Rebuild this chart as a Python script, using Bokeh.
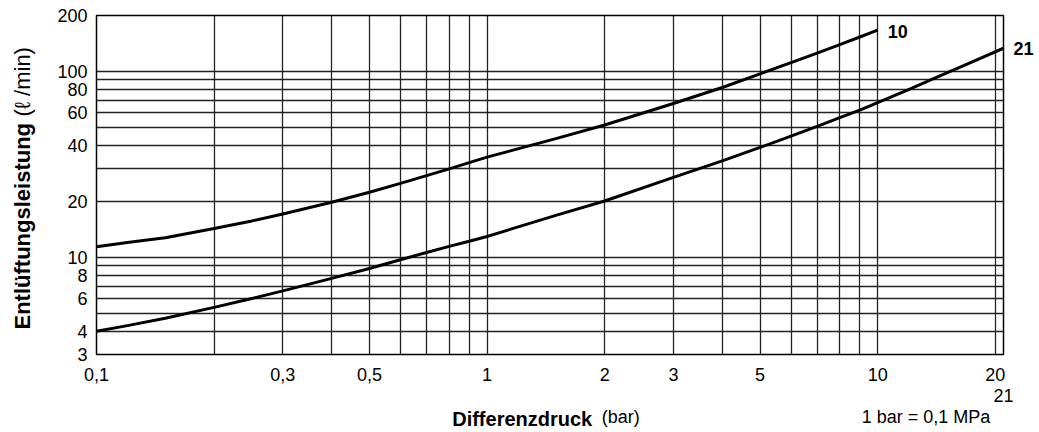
from math import pi
from bokeh.plotting import figure
from bokeh.models import FixedTicker, CustomJSTickFormatter, Label
from bokeh.embed import file_html
from bokeh.resources import INLINE

# ---- data ----
pressure_10 = [0.1, 0.12, 0.15, 0.2, 0.25, 0.3, 0.4, 0.5, 0.6, 0.7, 0.8, 0.9, 1.0, 1.5, 2, 3, 4, 5, 6, 7, 8, 9, 10]
flow_10 = [11.4, 12.0, 12.75, 14.3, 15.7, 17.1, 19.8, 22.4, 25.0, 27.5, 29.9, 32.3, 34.6, 43.5, 51.5, 67.2, 82.0,
           97.0, 111.5, 125.5, 139.5, 153.2, 166.9]

pressure_21 = [0.1, 0.12, 0.15, 0.2, 0.25, 0.3, 0.4, 0.5, 0.6, 0.7, 0.8, 0.9, 1.0, 1.5, 2, 3, 4, 5, 6, 7, 8, 9, 10,
               12, 14, 17, 21]
flow_21 = [4.0, 4.29, 4.7, 5.38, 6.0, 6.6, 7.7, 8.7, 9.7, 10.62, 11.45, 12.2, 12.95, 16.8, 20.1, 26.9, 33.0, 39.0,
           44.9, 50.6, 56.4, 62.0, 67.9, 79.9, 92.0, 109.8, 133.3]

series_names = ["10", "21"]

x_tick_values = [0.1, 0.3, 0.5, 1, 2, 3, 5, 10, 20]
x_tick_labels = ["0,1", "0,3", "0,5", "1", "2", "3", "5", "10", "20"]
x_end_value = 21
x_end_label = "21"
y_tick_values = [3, 4, 6, 8, 10, 20, 40, 60, 80, 100, 200]
y_tick_labels = ["3", "4", "6", "8", "10", "20", "40", "60", "80", "100", "200"]
x_grid_values = [0.2, 0.3, 0.4, 0.5, 0.6, 0.7, 0.8, 0.9, 1, 2, 3, 4, 5, 6, 7, 8, 9, 10, 20]
y_grid_values = [4, 5, 6, 7, 8, 9, 10, 20, 30, 40, 50, 60, 70, 80, 90, 100]

x_title_bold = "Differenzdruck"
x_title_unit = "(bar)"
y_title_bold = "Entlüftungsleistung"
y_title_unit = "(ℓ /min)"
unit_note = "1 bar = 0,1 MPa"

# layout anchors (x positions, in bar, where the bottom texts are centred)
unit_anchor_x = 2.2
note_anchor_x = 13.3

FONT = "Liberation Sans"
LOOKUP = "const i = keys.indexOf(tick); return i >= 0 ? texts[i] : String(tick);"

p = figure(
    width=1039, height=432,
    x_axis_type="log", y_axis_type="log",
    x_range=(0.1, 21), y_range=(3, 200),
    output_backend="svg", toolbar_location=None,
    min_border_left=96, min_border_right=36, min_border_top=15, min_border_bottom=78,
)
p.background_fill_color = "white"
p.border_fill_color = "white"
p.outline_line_color = "black"
p.outline_line_width = 1.5

# grids
p.xgrid.ticker = FixedTicker(ticks=x_grid_values)
p.ygrid.ticker = FixedTicker(ticks=y_grid_values)
for g in (p.xgrid, p.ygrid):
    g.grid_line_color = "#222222"
    g.grid_line_width = 1.3
    g.grid_line_alpha = 1.0

# x axis: tick labels, plus the extra "21" line and the bottom line texts
x_all_ticks = x_tick_values + [x_end_value, unit_anchor_x, note_anchor_x]
x_all_labels = x_tick_labels + ["\n" + x_end_label, "\n\n" + x_title_unit, "\n\n" + unit_note]
p.xaxis.ticker = FixedTicker(ticks=x_all_ticks)
p.xaxis.formatter = CustomJSTickFormatter(args=dict(keys=x_all_ticks, texts=x_all_labels), code=LOOKUP)
p.yaxis.ticker = FixedTicker(ticks=y_tick_values)
p.yaxis.formatter = CustomJSTickFormatter(args=dict(keys=y_tick_values, texts=y_tick_labels), code=LOOKUP)

for ax in (p.xaxis, p.yaxis):
    ax.axis_line_color = None
    ax.major_tick_line_color = None
    ax.minor_tick_line_color = None
    ax.major_tick_in = 0
    ax.major_tick_out = 0
    ax.minor_tick_in = 0
    ax.minor_tick_out = 0
    ax.major_label_text_font = FONT
    ax.major_label_text_font_size = "18px"
    ax.major_label_text_color = "black"
p.xaxis.major_label_standoff = 10
p.xaxis.major_label_text_line_height = 1.05
p.yaxis.major_label_standoff = 9

# bold part of the x title as the axis label, pulled up onto the last label line
p.xaxis.axis_label = x_title_bold + "\u00a0" * 10
p.xaxis.axis_label_text_font = FONT
p.xaxis.axis_label_text_font_size = "20px"
p.xaxis.axis_label_text_font_style = "bold"
p.xaxis.axis_label_text_color = "black"
p.xaxis.axis_label_standoff = -22

# curves
p.line(pressure_10, flow_10, line_color="black", line_width=3, line_join="round")
p.line(pressure_21, flow_21, line_color="black", line_width=3, line_join="round")

# label of curve 10 (inside the frame)
p.add_layout(Label(x=pressure_10[-1], y=flow_10[-1], text=series_names[0], x_offset=10, y_offset=-1,
                   text_font=FONT, text_font_size="18px", text_font_style="bold",
                   text_baseline="middle", text_align="left", text_color="black"))
# label of curve 21 (right of the frame)
p.add_layout(Label(x=pressure_21[-1], y=flow_21[-1], text=series_names[1], x_offset=10, y_offset=0,
                   text_font=FONT, text_font_size="18px", text_font_style="bold",
                   text_baseline="middle", text_align="left", text_color="black"), "right")

# y title (rotated), bold + normal part
p.add_layout(Label(x=-7.5, y=25, x_units="screen", y_units="screen", text=y_title_bold, angle=pi / 2,
                   text_font=FONT, text_font_size="22px", text_font_style="bold",
                   text_align="left", text_baseline="middle", text_color="black"), "left")
p.add_layout(Label(x=17.5, y=238, x_units="screen", y_units="screen", text=y_title_unit, angle=pi / 2,
                   text_font=FONT, text_font_size="22px",
                   text_align="left", text_baseline="middle", text_color="black"), "left")

open("out.html", "w").write(file_html(p, INLINE))
